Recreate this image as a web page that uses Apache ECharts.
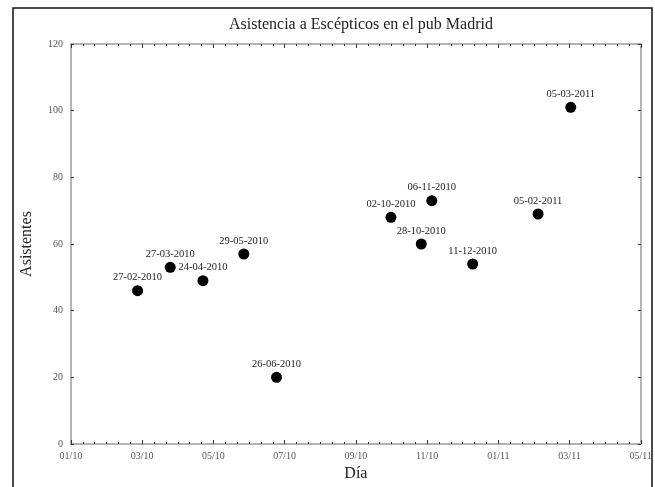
<!DOCTYPE html>
<html>
<head>
<meta charset="utf-8">
<script src="https://cdn.jsdelivr.net/npm/echarts@6/dist/echarts.min.js"></script>
<style>
html,body{margin:0;padding:0;background:#fff;}
#chart{width:655px;height:487px;}
</style>
</head>
<body>
<div id="chart"></div>
<script>
// ---- data ----
const titleText = 'Asistencia a Escépticos en el pub Madrid';
const dateLabels = ['27-02-2010','27-03-2010','24-04-2010','29-05-2010','26-06-2010','02-10-2010','28-10-2010','06-11-2010','11-12-2010','05-02-2011','05-03-2011'];
const attendees = [46,53,49,57,20,68,60,73,54,69,101];
const xTickLabels = ['01/10','03/10','05/10','07/10','09/10','11/10','01/11','03/11','05/11'];
const yTickLabels = ['0','20','40','60','80','100','120'];

// day offset from 01-01-2010
const DAY = 86400000;
const origin = Date.UTC(2010,0,1);
function dayOffset(s){
  const p = s.split('-');
  return Math.round((Date.UTC(+p[2], +p[1]-1, +p[0]) - origin)/DAY);
}
const points = dateLabels.map((d,i)=>({value:[dayOffset(d), attendees[i]], name:d}));

const TICK_DAYS = 61;
const X_MAX = TICK_DAYS*(xTickLabels.length-1);
const font = '"Liberation Serif","DejaVu Serif",serif';
const lineStyle = {color:'#9a9a9a', width:1.5};
const tickStyle = {color:'#333', width:1};

const el = document.getElementById('chart');
const chart = echarts.init(el, null, {renderer:'canvas'});
chart.setOption({
  animation:false,
  backgroundColor:'#fff',
  title:{
    text:titleText, left:356, textAlign:'center', top:12,
    textStyle:{fontFamily:font, fontSize:16, fontWeight:'normal', color:'#222'}
  },
  graphic:[{
    type:'rect', shape:{x:13, y:8, width:639, height:500},
    style:{fill:null, stroke:'#111', lineWidth:1.5}, silent:true
  }],
  grid:{left:71, right:14, top:44, height:406},
  xAxis:[{
    type:'value', min:0, max:X_MAX, interval:TICK_DAYS, position:'bottom',
    name:'Día', nameLocation:'middle', nameGap:22,
    nameTextStyle:{fontFamily:font, fontSize:16, color:'#222'},
    axisLine:{show:true, onZero:false, lineStyle:lineStyle},
    axisTick:{show:true, inside:true, length:4, lineStyle:tickStyle},
    minorTick:{show:true, splitNumber:6, length:2, lineStyle:tickStyle},
    axisLabel:{fontFamily:font, fontSize:10, color:'#555', margin:7,
      formatter:v=>xTickLabels[Math.round(v/TICK_DAYS)] || ''},
    splitLine:{show:false}
  },{
    type:'value', min:0, max:X_MAX, interval:TICK_DAYS, position:'top',
    axisLine:{show:true, onZero:false, lineStyle:lineStyle},
    axisTick:{show:true, inside:true, length:4, lineStyle:tickStyle},
    minorTick:{show:true, splitNumber:6, length:2, lineStyle:tickStyle},
    axisLabel:{show:false}, splitLine:{show:false}
  }],
  yAxis:[{
    type:'value', min:0, max:120, interval:20, position:'left',
    name:'Asistentes', nameLocation:'middle', nameGap:36, nameRotate:90,
    nameTextStyle:{fontFamily:font, fontSize:16, color:'#222'},
    axisLine:{show:true, onZero:false, lineStyle:lineStyle},
    axisTick:{show:true, inside:true, length:3, lineStyle:tickStyle},
    axisLabel:{fontFamily:font, fontSize:10, color:'#555', margin:8,
      formatter:v=>yTickLabels[Math.round(v/20)] || ''},
    splitLine:{show:false}
  },{
    type:'value', min:0, max:120, interval:20, position:'right',
    axisLine:{show:true, onZero:false, lineStyle:lineStyle},
    axisTick:{show:true, inside:true, length:3, lineStyle:tickStyle},
    axisLabel:{show:false}, splitLine:{show:false}
  }],
  series:[{
    type:'scatter', xAxisIndex:0, yAxisIndex:0,
    data:points, symbol:'circle', symbolSize:11,
    itemStyle:{color:'#000', opacity:1},
    label:{show:true, position:'top', distance:2, formatter:p=>p.name,
      fontFamily:font, fontSize:10.5, color:'#222'}
  },{
    type:'scatter', xAxisIndex:1, yAxisIndex:1, data:[], silent:true
  }]
});
</script>
</body>
</html>
